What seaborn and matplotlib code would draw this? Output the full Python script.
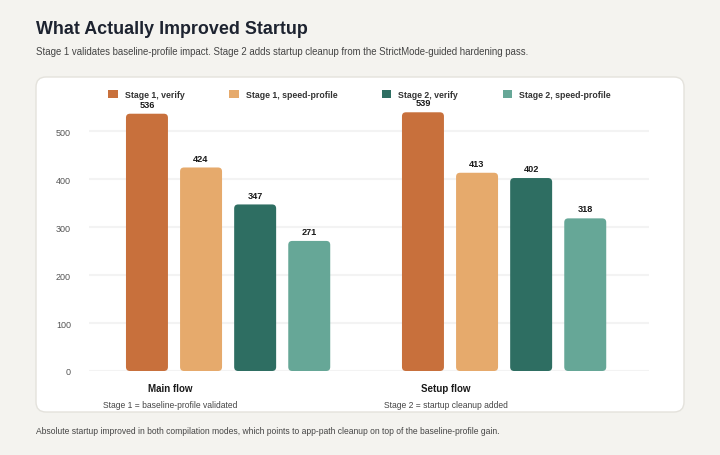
import pandas as pd
import matplotlib.pyplot as plt
import matplotlib.transforms as mtransforms
from matplotlib.patches import FancyBboxPatch, Patch
import seaborn as sns

# chart data
flows = ['Main flow', 'Setup flow']
flow_notes = ['Stage 1 = baseline-profile validated', 'Stage 2 = startup cleanup added']
series = ['Stage 1, verify', 'Stage 1, speed-profile', 'Stage 2, verify', 'Stage 2, speed-profile']
main_flow = [536, 424, 347, 271]
setup_flow = [539, 413, 402, 318]
colors = ['#c8703c', '#e6aa6c', '#2e6e62', '#66a797']

W, H = 720, 456
BG = '#f4f3ef'

sns.set_style('white')
plt.rcParams['font.family'] = ['Liberation Sans', 'DejaVu Sans']

rows = []
for flow, vals in zip(flows, [main_flow, setup_flow]):
    for s, v in zip(series, vals):
        rows.append({'flow': flow, 'series': s, 'ms': v})
df = pd.DataFrame(rows)

fig = plt.figure(figsize=(W / 100, H / 100), dpi=100, facecolor=BG)

# white card behind the chart
card = FancyBboxPatch((36 / W, 1 - 413 / H), (684 - 36) / W, (413 - 78) / H,
                      boxstyle='round,pad=0,rounding_size=%f' % (10 / W),
                      mutation_aspect=W / H, transform=fig.transFigure,
                      facecolor='white', edgecolor='#e4e2dc', linewidth=1, zorder=0)
fig.patches.append(card)

ax = fig.add_axes([89 / W, 84 / H, 560 / W, 278.4 / H])
ax.set_zorder(1)
ax.set_facecolor('none')

sns.barplot(data=df, x='flow', y='ms', hue='series', palette=colors, saturation=1,
            width=0.784, gap=0.224, ax=ax, legend=False)

ax.set_xlim(-0.504, 1.525)
ax.set_ylim(0, 580)
ax.set_yticks([0, 100, 200, 300, 400, 500])
ax.yaxis.grid(True, color='#f3f3f3', linewidth=1.5)
ax.set_axisbelow(True)
ax.axhline(0, color='#e4e4e4', linewidth=2, zorder=0.5)
for sp in ax.spines.values():
    sp.set_visible(False)
ax.tick_params(axis='y', length=0, pad=13, labelsize=6.5, labelcolor='#555555')
ax.set_xticks([])
ax.set_xlabel('')
ax.set_ylabel('')

# value labels
for cont in ax.containers:
    ax.bar_label(cont, fmt='%d', padding=3.5, fontsize=6.6, fontweight='bold', color='#1a1a1a')

# rounded bar corners
px_x = 276.0
px_y = 0.48
for p in list(ax.patches):
    if p.get_height() <= 0:
        continue
    rb = FancyBboxPatch((p.get_x(), p.get_y()), p.get_width(), p.get_height(),
                        boxstyle='round,pad=0,rounding_size=%f' % (4 / px_x),
                        mutation_aspect=px_x / px_y,
                        facecolor=p.get_facecolor(), edgecolor='none', zorder=2)
    ax.add_patch(rb)
    p.set_visible(False)

# category labels under the groups
trans = mtransforms.blended_transform_factory(ax.transData, fig.transFigure)
for i, (flow, note) in enumerate(zip(flows, flow_notes)):
    ax.text(i - 0.21, 1 - 389 / H, flow, transform=trans, ha='center', va='center',
            fontsize=7.0, fontweight='bold', color='#1a1a1a')
    ax.text(i - 0.21, 1 - 405 / H, note, transform=trans, ha='center', va='center',
            fontsize=6.15, color='#444444')

# legend
handles = [Patch(facecolor=c, edgecolor='none') for c in colors]
fig.legend(handles, series, loc='center', bbox_to_anchor=(359.5 / W, 1 - 95.5 / H),
           ncol=4, frameon=False, handlelength=1.1, handleheight=1.1, handletextpad=0.8,
           columnspacing=5.1, prop={'size': 6.3, 'weight': 'bold'}, labelcolor='#333333')

# titles
fig.text(36 / W, 1 - 30 / H, 'What Actually Improved Startup', fontsize=12.9,
         fontweight='bold', color='#1d2330', va='center')
fig.text(36 / W, 1 - 52 / H,
         'Stage 1 validates baseline-profile impact. Stage 2 adds startup cleanup from the StrictMode-guided hardening pass.',
         fontsize=6.9, color='#444444', va='center')
fig.text(36 / W, 1 - 432 / H,
         'Absolute startup improved in both compilation modes, which points to app-path cleanup on top of the baseline-profile gain.',
         fontsize=6.15, color='#444444', va='center')

fig.savefig('out.png', dpi=100, facecolor=BG)
